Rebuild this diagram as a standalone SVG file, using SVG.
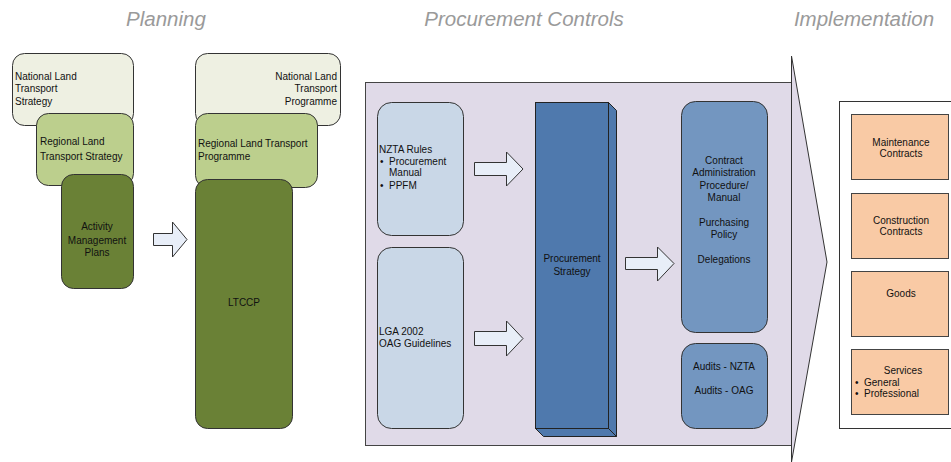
<svg xmlns="http://www.w3.org/2000/svg" width="951" height="462" viewBox="0 0 951 462">
<style>
text{font-family:"Liberation Sans",Arial,sans-serif;font-size:10px;fill:#111}
.h{font-size:20.5px;font-style:italic;fill:#9a9a9a;text-anchor:middle}
.c{text-anchor:middle}
.r{text-anchor:end}
.bx{stroke:#333;stroke-width:1}
.nat{fill:#eef0e2}
.reg{fill:#bccf8d}
.dk{fill:#6a8136}
.arr{fill:#e8eef8;stroke:#333;stroke-width:1}
.lb{fill:#c9d7e7}
.mb{fill:#7396c0}
.ps{fill:#4f79ad;stroke:#222;stroke-width:1}
.or{fill:#f9caa5;stroke:#444;stroke-width:1}
</style>

<g id="headers">
<text class="h" x="166" y="26">Planning</text>
<text class="h" x="524" y="26">Procurement Controls</text>
<text class="h" x="864" y="26">Implementation</text>
</g>

<g id="nlts">
<rect class="bx nat" x="12.5" y="53.5" width="121" height="72" rx="12"/>
<text x="15" y="80">National Land</text>
<text x="15" y="92">Transport</text>
<text x="15" y="105">Strategy</text>
</g>
<g id="rlts">
<rect class="bx reg" x="36.5" y="113.5" width="97" height="72" rx="12"/>
<text x="40" y="145">Regional Land</text>
<text x="40" y="160">Transport Strategy</text>
</g>
<g id="amp">
<rect class="bx dk" x="61.5" y="174.5" width="72" height="114" rx="12"/>
<text class="c" x="97" y="230">Activity</text>
<text class="c" x="97" y="244">Management</text>
<text class="c" x="97" y="256">Plans</text>
</g>

<g id="nltp">
<rect class="bx nat" x="195.5" y="53.5" width="145" height="72" rx="12"/>
<text class="r" x="337" y="80">National Land</text>
<text class="r" x="337" y="92">Transport</text>
<text class="r" x="337" y="105">Programme</text>
</g>
<g id="rltp">
<rect class="bx reg" x="195.5" y="113.5" width="122" height="74" rx="12"/>
<text x="198" y="147">Regional Land Transport</text>
<text x="198" y="160">Programme</text>
</g>
<g id="ltccp">
<rect class="bx dk" x="195.5" y="179.5" width="97" height="249" rx="12"/>
<text class="c" x="244" y="306">LTCCP</text>
</g>

<g id="procurement-controls">
<rect x="365.5" y="82.5" width="426" height="363" fill="#e0dae8" stroke="#444" stroke-width="1"/>
<polygon points="791.5,56 827,262 791.5,462" fill="#e0dae8" stroke="#333" stroke-width="1"/>
</g>

<g id="nzta">
<rect class="bx lb" x="377.5" y="102.5" width="86" height="133" rx="14"/>
<text x="379" y="153">NZTA Rules</text>
<text x="380" y="165">•</text>
<text x="389" y="165">Procurement</text>
<text x="389" y="176">Manual</text>
<text x="380" y="189">•</text>
<text x="389" y="189">PPFM</text>
</g>
<g id="lga">
<rect class="bx lb" x="377.5" y="247.5" width="86" height="181" rx="14"/>
<text x="379" y="335">LGA 2002</text>
<text x="379" y="347">OAG Guidelines</text>
</g>

<g id="strategy">
<polygon class="ps" points="608.5,102.5 616.5,110.5 616.5,436.5 608.5,428.5"/>
<polygon class="ps" points="535.5,428.5 608.5,428.5 616.5,436.5 543.5,436.5"/>
<rect class="ps" x="535.5" y="102.5" width="73" height="326"/>
<text class="c" x="572" y="262">Procurement</text>
<text class="c" x="572" y="275">Strategy</text>
</g>

<g id="contract">
<rect class="bx mb" x="681.5" y="101.5" width="86" height="231" rx="14"/>
<text class="c" x="724" y="164">Contract</text>
<text class="c" x="724" y="176">Administration</text>
<text class="c" x="724" y="189">Procedure/</text>
<text class="c" x="724" y="201">Manual</text>
<text class="c" x="724" y="226">Purchasing</text>
<text class="c" x="724" y="238">Policy</text>
<text class="c" x="724" y="263">Delegations</text>
</g>
<g id="audits">
<rect class="bx mb" x="681.5" y="343.5" width="86" height="85" rx="14"/>
<text class="c" x="724" y="370">Audits - NZTA</text>
<text class="c" x="724" y="394">Audits - OAG</text>
</g>

<g id="implementation">
<rect x="839.5" y="101.5" width="120" height="327" fill="#fff" stroke="#333" stroke-width="1"/>
</g>
<g id="maintenance">
<rect class="or" x="851.5" y="114.5" width="97" height="65"/>
<text class="c" x="901" y="145.5">Maintenance</text>
<text class="c" x="901" y="157">Contracts</text>
</g>
<g id="construction">
<rect class="or" x="851.5" y="193.5" width="97" height="65"/>
<text class="c" x="901" y="223.5">Construction</text>
<text class="c" x="901" y="235">Contracts</text>
</g>
<g id="goods">
<rect class="or" x="851.5" y="271.5" width="97" height="65"/>
<text class="c" x="901" y="297">Goods</text>
</g>
<g id="services">
<rect class="or" x="851.5" y="349.5" width="97" height="65"/>
<text class="c" x="903" y="373.5">Services</text>
<text x="855" y="386">•</text>
<text x="864" y="386">General</text>
<text x="855" y="397">•</text>
<text x="864" y="397">Professional</text>
</g>

<g id="connectors">
<polygon class="arr" points="153.5,233.5 172.5,233.5 172.5,222 187,239.5 172.5,257 172.5,245.5 153.5,245.5"/>
<polygon class="arr" points="474.5,162.5 506.5,162.5 506.5,152 523,169 506.5,186 506.5,175.5 474.5,175.5"/>
<polygon class="arr" points="474.5,331.5 506.5,331.5 506.5,321 523,338.5 506.5,356 506.5,345.5 474.5,345.5"/>
<polygon class="arr" points="625.5,257.5 657.5,257.5 657.5,247 674,263.5 657.5,281 657.5,269.5 625.5,269.5"/>
</g>
</svg>
